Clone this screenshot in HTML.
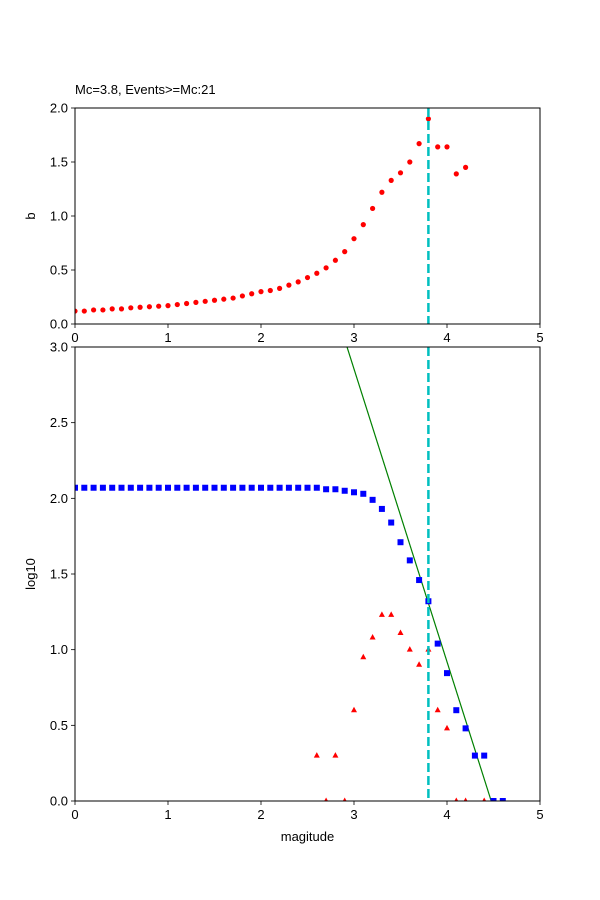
<!DOCTYPE html>
<html><head><meta charset="utf-8"><style>
body{margin:0;background:#fff;}
svg{display:block;font-family:"Liberation Sans","DejaVu Sans",sans-serif;}
</style></head><body>
<svg id="chart" width="600" height="900" viewBox="0 0 600 900" xmlns="http://www.w3.org/2000/svg">
<rect width="600" height="900" fill="#fff"/>
<g id="topPanel"></g>
<g id="botPanel"></g>
</svg>
<script>
const bMags = [0,0.1,0.2,0.3,0.4,0.5,0.6,0.7,0.8,0.9,1.0,1.1,1.2,1.3,1.4,1.5,1.6,1.7,1.8,1.9,2.0,2.1,2.2,2.3,2.4,2.5,2.6,2.7,2.8,2.9,3.0,3.1,3.2,3.3,3.4,3.5,3.6,3.7,3.8,3.9,4.0,4.1,4.2];
const bValues = [0.12,0.12,0.13,0.13,0.14,0.14,0.15,0.155,0.16,0.165,0.17,0.18,0.19,0.2,0.21,0.22,0.23,0.24,0.26,0.28,0.3,0.31,0.33,0.36,0.39,0.43,0.47,0.52,0.59,0.67,0.79,0.92,1.07,1.22,1.33,1.4,1.5,1.67,1.9,1.64,1.64,1.39,1.45];
const cumMags = [0,0.1,0.2,0.3,0.4,0.5,0.6,0.7,0.8,0.9,1.0,1.1,1.2,1.3,1.4,1.5,1.6,1.7,1.8,1.9,2.0,2.1,2.2,2.3,2.4,2.5,2.6,2.7,2.8,2.9,3.0,3.1,3.2,3.3,3.4,3.5,3.6,3.7,3.8,3.9,4.0,4.1,4.2,4.3,4.4,4.5,4.6];
const cumLog = [2.07,2.07,2.07,2.07,2.07,2.07,2.07,2.07,2.07,2.07,2.07,2.07,2.07,2.07,2.07,2.07,2.07,2.07,2.07,2.07,2.07,2.07,2.07,2.07,2.07,2.07,2.07,2.06,2.06,2.05,2.04,2.03,1.99,1.93,1.84,1.71,1.59,1.46,1.32,1.04,0.845,0.6,0.48,0.3,0.3,0,0];
const incMags = [2.6,2.7,2.8,2.9,3.0,3.1,3.2,3.3,3.4,3.5,3.6,3.7,3.8,3.9,4.0,4.1,4.2,4.4];
const incLog = [0.3,0,0.3,0,0.6,0.95,1.08,1.23,1.23,1.11,1.0,0.9,1.0,0.6,0.48,0,0,0];
const fitA = 8.66, fitB = 1.935, Mc = 3.8;
const xTicks = [0,1,2,3,4,5];
const topYTicks = [0,0.5,1,1.5,2];
const botYTicks = [0,0.5,1,1.5,2,2.5,3];

const NS="http://www.w3.org/2000/svg";
function mk(parent,tag,attrs,text){const e=document.createElementNS(NS,tag);for(const k in attrs)e.setAttribute(k,attrs[k]);if(text!==undefined)e.textContent=text;parent.appendChild(e);return e;}
const L=75,R=540;
const xs=v=>L+(R-L)*v/5;
const topY=v=>324-(324-108)*v/2;
const botY=v=>801-(801-347)*v/3;
const topG=document.getElementById('topPanel'), botG=document.getElementById('botPanel');

function axes(g,yT,ys,y0,y1,ylabel,ylx){
  xTicks.forEach(t=>{
    const l=mk(g,'line',{x1:xs(t),x2:xs(t),y1:y0,y2:y0+4,stroke:'#000','stroke-width':0.8});
    
    
    const tx=mk(g,'text',{x:xs(t),y:y0+18,'font-size':13,'text-anchor':'middle'},String(t));
    
    
  });
  yT.forEach(t=>{
    const l=mk(g,'line',{x1:L-4,x2:L,y1:ys(t),y2:ys(t),stroke:'#000','stroke-width':0.8});
    
    
    const tx=mk(g,'text',{x:L-7,y:ys(t)+4.5,'font-size':13,'text-anchor':'end'},t.toFixed(1));
    
    
  });
  const yl=mk(g,'text',{x:ylx,y:(y0+y1)/2,'font-size':13,'text-anchor':'middle',transform:`rotate(-90 ${ylx} ${(y0+y1)/2})`},ylabel);
  
  
}
function frame(g,y0,y1){
  const r=mk(g,'rect',{x:L,y:y1,width:R-L,height:y0-y1,fill:'none',stroke:'#000','stroke-width':1});
  
  
}
const svgRoot=document.getElementById('chart');
function clip(id,y1,y0){const d=mk(svgRoot,'clipPath',{id:id});mk(d,'rect',{x:L,y:y1,width:R-L,height:y0-y1});}
clip('ct',108,324);clip('cb',347,801);

// top panel
const tg=mk(topG,'g',{'clip-path':'url(#ct)'});
bMags.forEach((m,i)=>{
  const c=mk(tg,'circle',{cx:xs(m),cy:topY(bValues[i]),r:2.6,fill:'#ff0000'});
  
  
});
const mcT=mk(tg,'line',{x1:xs(Mc),x2:xs(Mc),y1:108,y2:324,stroke:'#00bfbf','stroke-width':2.5,'stroke-dasharray':'9,4'});


frame(topG,324,108);
axes(topG,topYTicks,topY,324,108,'b',35);
const title=mk(topG,'text',{x:75,y:94,'font-size':13},'Mc=3.8, Events>=Mc:21');



// bottom panel
const bg=mk(botG,'g',{'clip-path':'url(#cb)'});
const fit=mk(bg,'line',{x1:xs(0),y1:botY(fitA),x2:xs(fitA/fitB),y2:botY(0),stroke:'#008000','stroke-width':1.2});


cumMags.forEach((m,i)=>{
  const s=mk(bg,'rect',{x:xs(m)-3,y:botY(cumLog[i])-3,width:6,height:6,fill:'#0000ff'});
  
  
});
incMags.forEach((m,i)=>{
  const x=xs(m),y=botY(incLog[i]);
  const t=mk(bg,'polygon',{points:`${x},${y-3.5} ${x-3},${y+2} ${x+3},${y+2}`,fill:'#ff0000'});
  
  
});
const mcB=mk(bg,'line',{x1:xs(Mc),x2:xs(Mc),y1:347,y2:801,stroke:'#00bfbf','stroke-width':2.5,'stroke-dasharray':'9,4'});


frame(botG,801,347);
axes(botG,botYTicks,botY,801,347,'log10',35);
const xl=mk(botG,'text',{x:(L+R)/2,y:841,'font-size':13,'text-anchor':'middle'},'magitude');


</script>
</body></html>
